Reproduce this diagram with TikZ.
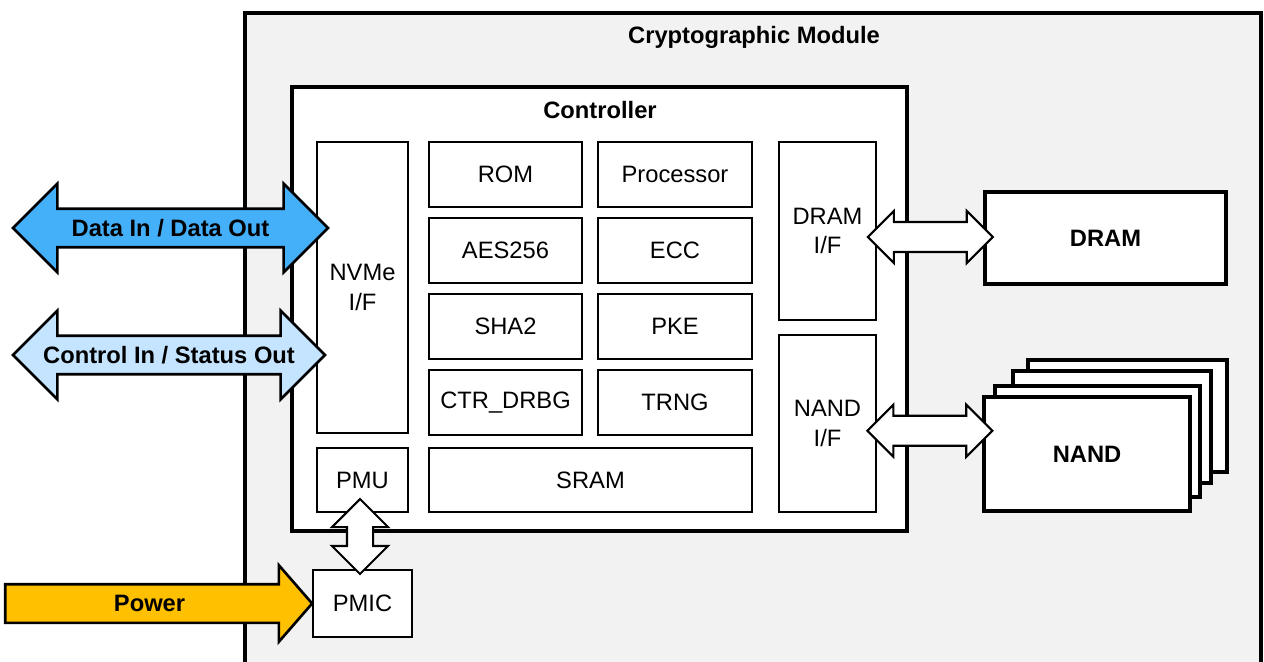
\documentclass[tikz,border=0pt]{standalone}
\usepackage{fontspec}
\setmainfont{Liberation Sans}
\usetikzlibrary{shapes.arrows,calc}

\definecolor{modgray}{HTML}{F2F2F2}
\definecolor{datablue}{HTML}{45B0FA}
\definecolor{ctrlblue}{HTML}{C4E4FF}
\definecolor{powerorange}{HTML}{FFC000}

\tikzset{
  txt/.style={font=\fontsize{13.5}{17}\selectfont},
  title/.style={font=\fontsize{13.5}{17}\selectfont\bfseries},
  blk/.style={txt, draw, fill=white, line width=1.3pt, inner sep=0pt, align=center},
  ext/.style={title, draw, fill=white, line width=1.8pt, inner sep=0pt},
  linkarrow/.style={double arrow, draw, fill=white, line width=1.2pt, inner xsep=0pt},
  busarrow/.style={double arrow, draw, line width=1.5pt, inner xsep=0pt, inner ysep=0.36cm,
    double arrow head extend=0.5cm, minimum height=6.3cm},
}

\begin{document}
\begin{tikzpicture}[x=0.02cm,y=-0.02cm]
\useasboundingbox (0,0) rectangle (1264,662);
% module and controller frames
\draw[line width=2.2pt, fill=modgray] (245,13) rectangle (1261,720);
\node[title] at (754,37) {Cryptographic Module};
\draw[line width=2pt, fill=white] (292,87) rectangle (907,531);
\node[title] at (600,110) {Controller};

% controller blocks
\node[blk, minimum width=1.82cm, minimum height=5.82cm] (nvme) at (362.5,287.5) {NVMe\\I/F};
\node[blk, minimum width=3.06cm, minimum height=1.3cm] (rom) at (505.5,174.5) {ROM};
\node[blk, minimum width=3.08cm, minimum height=1.3cm] (proc) at (675,174.5) {Processor};
\node[blk, minimum width=3.06cm, minimum height=1.3cm] (aes) at (505.5,250.5) {AES256};
\node[blk, minimum width=3.08cm, minimum height=1.3cm] (ecc) at (675,250.5) {ECC};
\node[blk, minimum width=3.06cm, minimum height=1.3cm] (sha) at (505.5,326.5) {SHA2};
\node[blk, minimum width=3.08cm, minimum height=1.3cm] (pke) at (675,326.5) {PKE};
\node[blk, minimum width=3.06cm, minimum height=1.3cm] (drbg) at (505.5,402.5) {CTR\_DRBG};
\node[blk, minimum width=3.08cm, minimum height=1.3cm] (trng) at (675,402.5) {TRNG};
\node[blk, minimum width=1.82cm, minimum height=1.28cm] (pmu) at (362.5,480) {PMU};
\node[blk, minimum width=6.46cm, minimum height=1.28cm] (sram) at (590.5,480) {SRAM};
\node[blk, minimum width=1.94cm, minimum height=3.56cm] (dramif) at (827.5,231) {DRAM\\I/F};
\node[blk, minimum width=1.94cm, minimum height=3.54cm] (nandif) at (827.5,423.5) {NAND\\I/F};
\node[blk, minimum width=1.98cm, minimum height=1.34cm] (pmic) at (362.5,603.5) {PMIC};

% external memories
\node[ext, minimum width=4.82cm, minimum height=1.84cm] (dram) at (1105.5,238) {DRAM};
\foreach \xa/\ya/\xb/\yb in {1028/360/1227/472, 1013/371/1211/483, 995/386/1200/497}
  \draw[line width=1.8pt, fill=white] (\xa,\ya) rectangle (\xb,\yb);
\node[ext, minimum width=4.12cm, minimum height=2.28cm] (nand) at (1087,454) {NAND};

% links
\node[linkarrow, inner ysep=0.28cm, double arrow head extend=0.22cm, minimum height=2.5cm]
  (dramlink) at ($(dramif.east)!.5!(dram.west)+(0,2.5)$) {};
\node[linkarrow, inner ysep=0.28cm, double arrow head extend=0.22cm, minimum height=2.5cm]
  (nandlink) at ($(nandif.east)!.5!(nand.west)+(0,-8)$) {};
\node[linkarrow, rotate=90, inner ysep=0.24cm, double arrow head extend=0.3cm, minimum height=1.5cm]
  (pmulink) at ($(pmu.south)!.5!(pmic.north)+(-2.5,-4.5)$) {};

% host side
\node[busarrow, fill=datablue] (databus) at (170.5,228) {};
\node[title] at (databus) {Data In / Data Out};
\node[busarrow, fill=ctrlblue, minimum height=6.24cm] (ctrlbus) at (169,355) {};
\node[title] at (ctrlbus) {Control In / Status Out};
\node[single arrow, draw, fill=powerorange, line width=1.5pt, inner xsep=0pt, inner ysep=0.36cm,
  single arrow head extend=0.38cm, single arrow tip angle=98, minimum height=6.14cm, anchor=tip]
  (power) at ($(pmic.west)+(2,0)$) {};
\node[title] at ($(power.tail)!.47!(power.tip)$) {Power};
\end{tikzpicture}
\end{document}
